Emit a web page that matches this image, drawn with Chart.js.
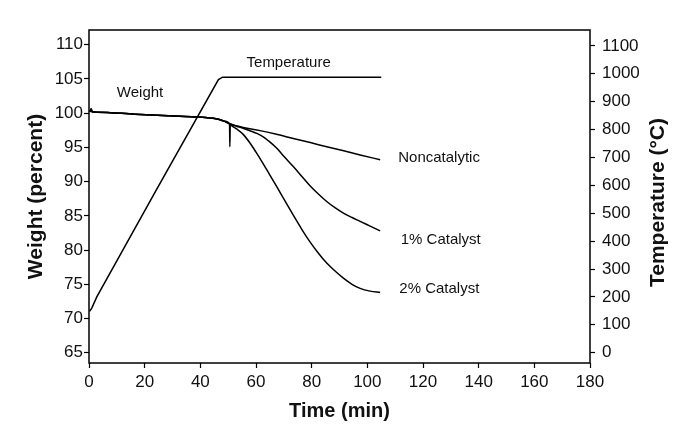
<!DOCTYPE html>
<html>
<head>
<meta charset="utf-8">
<script src="https://cdn.jsdelivr.net/npm/chart.js@4.4.1/dist/chart.umd.min.js"></script>
<style>
  html, body { margin: 0; padding: 0; background: #fff; }
  #wrap { width: 678px; height: 428px; }
</style>
</head>
<body>
<div id="wrap"><canvas id="tga"></canvas></div>
<script>
// tick labels
const timeTicks = [0, 20, 40, 60, 80, 100, 120, 140, 160, 180];
const weightTicks = [65, 70, 75, 80, 85, 90, 95, 100, 105, 110];
const tempTicks = [0, 100, 200, 300, 400, 500, 600, 700, 800, 900, 1000, 1100];

// [time (min), value]
const temperature = [
  [0.2, 148], [1, 160], [2.8, 200], [24, 580], [46.5, 979], [48, 988], [105, 988]
];

// weight loss before the runs split (same for all three samples)
const commonWeight = [
  [0.3, 100.2], [0.8, 100.6], [1.1, 100.2], [3, 100.15], [16.5, 99.85],
  [34.5, 99.5], [41.7, 99.36], [46.5, 99.1], [48.3, 98.87], [50.5, 98.45]
];

const noncatalytic = [
  [53, 98.15], [55.4, 97.9], [61.4, 97.45], [67, 96.95], [73.4, 96.3], [79.5, 95.7],
  [85.4, 95.1], [91.5, 94.5], [97.4, 93.9], [104.6, 93.2]
];

const catalyst1 = [
  [53, 98.1], [55.4, 97.8], [58, 97.4], [60.3, 97.05], [62.6, 96.55], [64.5, 95.95],
  [67.4, 94.9], [70, 93.7], [73.4, 92.2], [76.5, 90.75], [79.4, 89.4], [82.5, 88.15],
  [85.4, 87.1], [88.5, 86.15], [91.4, 85.4], [94.5, 84.75], [97.4, 84.2], [101, 83.5],
  [104.6, 82.8]
];

const catalyst2 = [
  [50.6, 95.1], [50.75, 98.3], [51.5, 98.1], [53, 97.7], [55.4, 96.9], [57.9, 95.6],
  [60, 94.3], [62, 93.0], [64.5, 91.3], [67.4, 89.3], [70.5, 87.1], [73.4, 85.1],
  [76.5, 83.0], [79.4, 81.2], [82.5, 79.5], [85.4, 78.1], [88.5, 76.9], [91.4, 75.9],
  [94.5, 75.0], [97.4, 74.4], [101, 74.0], [104.6, 73.8]
];

// text placed next to the curves (time, value on the given axis)
const curveLabels = [
  { text: 'Weight', time: 10, value: 102.3, axis: 'yWeight' },
  { text: 'Temperature', time: 56.6, value: 1026, axis: 'yTemp' },
  { text: 'Noncatalytic', time: 111.1, value: 92.8, axis: 'yWeight' },
  { text: '1% Catalyst', time: 112.0, value: 80.9, axis: 'yWeight' },
  { text: '2% Catalyst', time: 111.5, value: 73.7, axis: 'yWeight' }
];

const toXY = (pts) => pts.map(([x, y]) => ({ x, y }));

const FONT = '"Liberation Sans", Arial, Helvetica, sans-serif';
const INK = '#111';

const lineStyle = {
  borderColor: '#000',
  borderWidth: 1.5,
  pointRadius: 0,
  fill: false
};

const labelPlugin = {
  id: 'curveLabels',
  afterDatasetsDraw(chart) {
    const { ctx, scales } = chart;
    ctx.save();
    ctx.font = '15px ' + FONT;
    ctx.fillStyle = INK;
    ctx.textAlign = 'left';
    ctx.textBaseline = 'alphabetic';
    curveLabels.forEach((l) => {
      ctx.fillText(l.text, scales.x.getPixelForValue(l.time), scales[l.axis].getPixelForValue(l.value));
    });
    ctx.restore();
  }
};

// plot frame + right axis title (reads bottom to top like the left one)
const framePlugin = {
  id: 'frame',
  afterDraw(chart) {
    const { ctx, chartArea: a, scales } = chart;
    ctx.save();
    ctx.strokeStyle = '#000';
    ctx.lineWidth = 1.5;
    ctx.strokeRect(a.left, a.top, a.right - a.left, a.bottom - a.top);

    const r = scales.yTemp;
    ctx.translate(r.right - 20, (r.top + r.bottom) / 2 + 6);
    ctx.rotate(-Math.PI / 2);
    ctx.font = 'bold 21px ' + FONT;
    ctx.fillStyle = INK;
    ctx.textAlign = 'center';
    ctx.textBaseline = 'middle';
    ctx.fillText('Temperature (°C)', 0, 0);
    ctx.restore();
  }
};

const tickGrid = {
  drawOnChartArea: false,
  drawTicks: true,
  tickLength: 5,
  tickColor: '#000',
  tickWidth: 1.2
};

const plainNumber = (v) => String(v);

new Chart(document.getElementById('tga'), {
  type: 'line',
  data: {
    datasets: [
      { label: 'Temperature', data: toXY(temperature), yAxisID: 'yTemp', tension: 0, ...lineStyle },
      { label: 'Noncatalytic', data: toXY(commonWeight.concat(noncatalytic)), yAxisID: 'yWeight', cubicInterpolationMode: 'monotone', ...lineStyle },
      { label: '1% Catalyst', data: toXY(commonWeight.concat(catalyst1)), yAxisID: 'yWeight', cubicInterpolationMode: 'monotone', ...lineStyle },
      { label: '2% Catalyst', data: toXY(commonWeight.concat(catalyst2)), yAxisID: 'yWeight', cubicInterpolationMode: 'monotone', ...lineStyle }
    ]
  },
  options: {
    responsive: true,
    maintainAspectRatio: false,
    animation: false,
    layout: { padding: { top: 30, right: 0, bottom: 0, left: 0 } },
    plugins: {
      legend: { display: false },
      tooltip: { enabled: false }
    },
    scales: {
      x: {
        type: 'linear',
        min: 0,
        max: 180,
        afterBuildTicks: (s) => { s.ticks = timeTicks.map((v) => ({ value: v })); },
        afterFit: (s) => { s.height = 65; },
        grid: tickGrid,
        border: { display: false },
        ticks: { color: INK, padding: 4, maxRotation: 0, callback: plainNumber, font: { family: FONT, size: 17 } },
        title: {
          display: true,
          text: 'Time (min)',
          color: INK,
          font: { family: FONT, size: 20, weight: 'bold' },
          padding: { top: 0, bottom: 5 }
        }
      },
      yWeight: {
        type: 'linear',
        position: 'left',
        min: 63.5,
        max: 112.15,
        afterBuildTicks: (s) => { s.ticks = weightTicks.map((v) => ({ value: v })); },
        afterFit: (s) => { s.width = 89; },
        grid: tickGrid,
        border: { display: false },
        ticks: { color: INK, padding: 1, callback: plainNumber, font: { family: FONT, size: 17 } },
        title: {
          display: true,
          text: 'Weight (percent)',
          color: INK,
          font: { family: FONT, size: 21, weight: 'bold' },
          padding: { top: 24, bottom: 0 }
        }
      },
      yTemp: {
        type: 'linear',
        position: 'right',
        min: -37,
        max: 1157,
        afterBuildTicks: (s) => { s.ticks = tempTicks.map((v) => ({ value: v })); },
        afterFit: (s) => { s.width = 88; },
        grid: tickGrid,
        border: { display: false },
        ticks: { color: INK, padding: 7, callback: plainNumber, font: { family: FONT, size: 17 } }
      }
    }
  },
  plugins: [labelPlugin, framePlugin]
});
</script>
</body>
</html>
